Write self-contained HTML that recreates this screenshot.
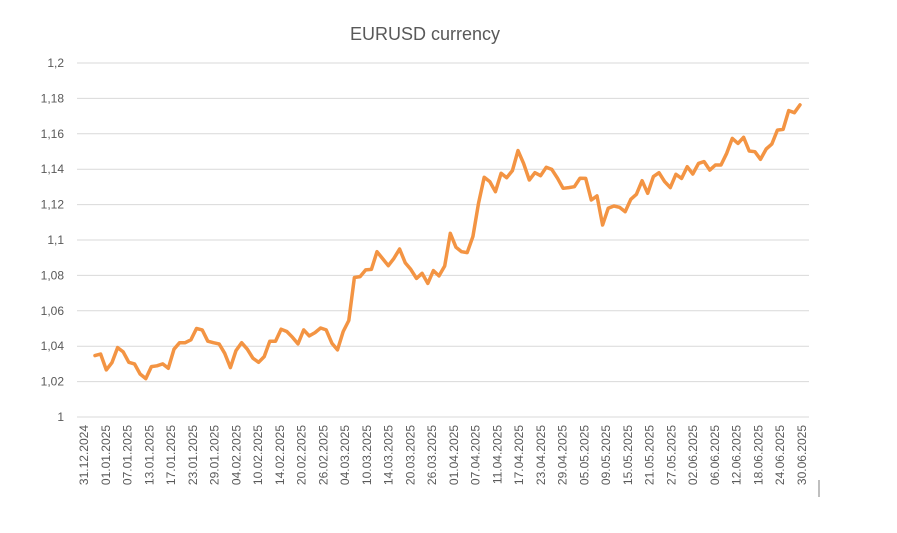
<!DOCTYPE html>
<html><head><meta charset="utf-8"><style>
body{margin:0;background:#fff;}
svg{display:block;font-family:"Liberation Sans",sans-serif;}
</style></head><body>
<svg id="chart" width="897" height="533" viewBox="0 0 897 533">
<text x="425" y="40" text-anchor="middle" font-size="18" fill="#595959">EURUSD currency</text>
<g id="grid"></g><g id="ylabels"></g><g id="xlabels"></g>
<path id="line" fill="none" stroke="#F39443" stroke-width="3.5" stroke-linejoin="round" stroke-linecap="round"/>
<line x1="819" y1="480" x2="819" y2="497" stroke="#7f7f7f" stroke-width="1"/>
</svg>
<script>
const yTicks=[1,1.02,1.04,1.06,1.08,1.1,1.12,1.14,1.16,1.18,1.2];
const yTickLabels=["1","1,02","1,04","1,06","1,08","1,1","1,12","1,14","1,16","1,18","1,2"];
const xLabels=["31.12.2024","01.01.2025","07.01.2025","13.01.2025","17.01.2025","23.01.2025","29.01.2025","04.02.2025","10.02.2025","14.02.2025","20.02.2025","26.02.2025","04.03.2025","10.03.2025","14.03.2025","20.03.2025","26.03.2025","01.04.2025","07.04.2025","11.04.2025","17.04.2025","23.04.2025","29.04.2025","05.05.2025","09.05.2025","15.05.2025","21.05.2025","27.05.2025","02.06.2025","06.06.2025","12.06.2025","18.06.2025","24.06.2025","30.06.2025"];
const rates=[1.0347,1.0356,1.0266,1.0307,1.0392,1.0368,1.0309,1.0300,1.0243,1.0217,1.0285,1.0289,1.0300,1.0275,1.0383,1.0420,1.0420,1.0436,1.0500,1.0492,1.0428,1.0420,1.0413,1.0360,1.0279,1.0375,1.0420,1.0383,1.0332,1.0309,1.0341,1.0428,1.0428,1.0496,1.0483,1.0451,1.0413,1.0492,1.0458,1.0477,1.0503,1.0492,1.0417,1.0379,1.0483,1.0545,1.0788,1.0793,1.0831,
1.0834,1.0934,1.0895,1.0855,1.0896,1.0949,1.0872,1.0834,1.0783,1.0812,1.0755,1.0827,1.0797,1.0853,1.1038,1.0959,1.0934,1.0929,1.1019,1.1207,1.1354,1.1330,1.1273,1.1377,1.1352,1.1392,1.1505,1.1433,1.1339,1.1380,1.1363,1.1411,1.1399,1.1349,1.1292,1.1296,1.1301,1.1349,
1.1348,1.1226,1.1249,1.1085,1.1179,1.1192,1.1185,1.1160,1.1230,1.1258,1.1335,1.1264,1.1358,1.1380,1.1330,1.1296,1.1371,1.1348,1.1414,1.1373,1.1433,1.1443,1.1395,1.1424,1.1424,1.1490,1.1574,1.1546,1.1580,1.1503,1.1499,1.1456,1.1514,1.1542,1.1621,1.1625,1.1731,1.1719,1.1763];
const NS="http://www.w3.org/2000/svg";
const yScale=v=>417-(v-1)/0.2*354;
const xScale=i=>95+i*(800-95)/(rates.length-1);
const xLab=i=>84+i*(802-84)/(xLabels.length-1);
const grid=document.getElementById('grid'),yl=document.getElementById('ylabels'),xl=document.getElementById('xlabels');
yTicks.forEach((t,k)=>{
 const y=yScale(t);
 const l=document.createElementNS(NS,'line');
 
 
 l.setAttribute('x1',77);l.setAttribute('x2',809);l.setAttribute('y1',y);l.setAttribute('y2',y);
 l.setAttribute('stroke','#d9d9d9');l.setAttribute('stroke-width','1');
 grid.appendChild(l);
 const tx=document.createElementNS(NS,'text');
 
 
 tx.setAttribute('x',64);tx.setAttribute('y',y+4);tx.setAttribute('text-anchor','end');
 tx.setAttribute('font-size','12');tx.setAttribute('fill','#595959');
 tx.textContent=yTickLabels[k];yl.appendChild(tx);
});
xLabels.forEach((s,i)=>{
 const x=xLab(i);
 const tx=document.createElementNS(NS,'text');
 
 
 tx.setAttribute('transform','translate('+(x+4)+',425) rotate(-90)');
 tx.setAttribute('text-anchor','end');
 tx.setAttribute('font-size','12');tx.setAttribute('fill','#595959');
 tx.textContent=s;xl.appendChild(tx);
});
document.getElementById('line').setAttribute('d',rates.map((v,i)=>(i?'L':'M')+xScale(i).toFixed(1)+' '+yScale(v).toFixed(1)).join(' '));
</script>
</body></html>
